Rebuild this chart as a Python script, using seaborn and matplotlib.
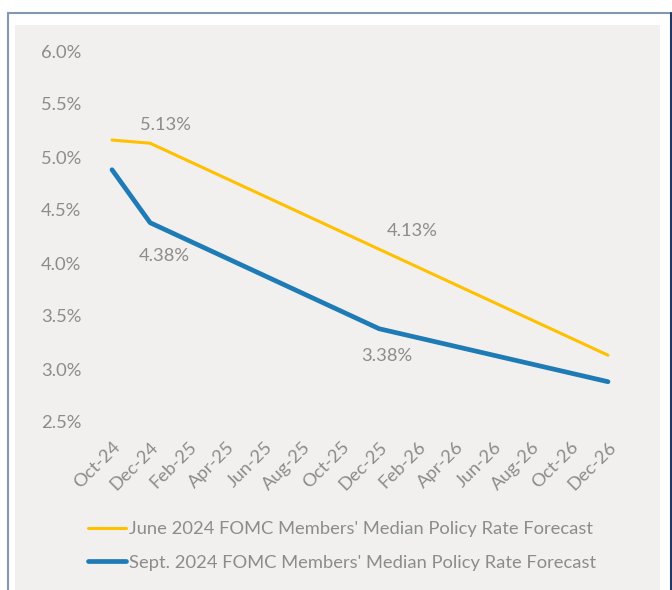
import matplotlib
matplotlib.use("Agg")
import matplotlib.pyplot as plt
import seaborn as sns
import pandas as pd
from matplotlib.lines import Line2D
from matplotlib.patches import Rectangle

# ---- data ----
months_all = ["Oct-24", "Nov-24", "Dec-24", "Jan-25", "Feb-25", "Mar-25", "Apr-25", "May-25",
              "Jun-25", "Jul-25", "Aug-25", "Sep-25", "Oct-25", "Nov-25", "Dec-25", "Jan-26",
              "Feb-26", "Mar-26", "Apr-26", "May-26", "Jun-26", "Jul-26", "Aug-26", "Sep-26",
              "Oct-26", "Nov-26", "Dec-26"]
tick_labels = months_all[::2]
point_dates = ["Oct-24", "Dec-24", "Dec-25", "Dec-26"]
june_vals = [5.16, 5.13, 4.13, 3.13]
sept_vals = [4.88, 4.38, 3.38, 2.88]
june_name = "June 2024 FOMC Members' Median Policy Rate Forecast"
sept_name = "Sept. 2024 FOMC Members' Median Policy Rate Forecast"
yticks = [2.5, 3.0, 3.5, 4.0, 4.5, 5.0, 5.5, 6.0]

rows = []
for d, v in zip(point_dates, june_vals):
    rows.append({"m": months_all.index(d), "rate": v, "series": june_name})
for d, v in zip(point_dates, sept_vals):
    rows.append({"m": months_all.index(d), "rate": v, "series": sept_name})
df = pd.DataFrame(rows)

sns.set_theme(style="white")
plt.rcParams["font.family"] = ["Lato", "DejaVu Sans"]

W, H = 672, 590
FS = 13.2
fig = plt.figure(figsize=(W / 100, H / 100), dpi=100)
fig.patch.set_facecolor("white")

def fx(x):
    return x / W

def fy(y):
    return 1 - y / H

# panel
fig.patches.append(Rectangle((fx(15), 0), fx(660) - fx(15), fy(25), transform=fig.transFigure,
                             facecolor="#f1f0ef", edgecolor="none", zorder=-5))
# frame
fig.lines.append(Line2D([fx(7.5), fx(7.5)], [0, fy(12.5)], transform=fig.transFigure, color="#8497b0", lw=1.5, zorder=-4))
fig.lines.append(Line2D([fx(7.5), fx(671)], [fy(12.5), fy(12.5)], transform=fig.transFigure, color="#8497b0", lw=1.5, zorder=-4))
fig.lines.append(Line2D([fx(671), fx(671)], [0, fy(12.5)], transform=fig.transFigure, color="#203864", lw=1.5, zorder=-4))

ax_left, ax_right, ax_top, ax_bot = 95, 625, 51, 422
ax = fig.add_axes([fx(ax_left), fy(ax_bot), fx(ax_right) - fx(ax_left), fy(ax_top) - fy(ax_bot)])
ax.set_zorder(2)
ax.set_facecolor("none")
ax.patch.set_alpha(0)

palette = {june_name: "#ffc000", sept_name: "#1f7bb6"}
sizes = {june_name: 2.2, sept_name: 3.4}
for name in [june_name, sept_name]:
    sub = df[df["series"] == name]
    sns.lineplot(data=sub, x="m", y="rate", ax=ax, color=palette[name], lw=sizes[name],
                 solid_capstyle="round", solid_joinstyle="round", legend=False)

# x range: Oct-24 at pixel 112, Dec-26 at 608
px_per = (608 - 112) / 26
ax.set_xlim(-(112 - ax_left) / px_per, 26 + (ax_right - 608) / px_per)
ax.set_ylim(2.5, 6.0)
ax.set_yticks(yticks)
ax.set_yticklabels([f"{t:.1f}%" for t in yticks])
ax.set_xticks(range(0, 27, 2))
ax.set_xticklabels(tick_labels, rotation=45, ha="right", rotation_mode="anchor")
ax.tick_params(axis="both", length=0, colors="#8c8c8c", labelsize=FS)
ax.tick_params(axis="y", pad=10)
ax.tick_params(axis="x", pad=12)
for s in ax.spines.values():
    s.set_visible(False)
ax.grid(False)
ax.set_xlabel("")
ax.set_ylabel("")

lab_kw = dict(color="#8c8c8c", fontsize=FS, ha="center", va="center")
ax.text(2.78, 5.30, "5.13%", **lab_kw)
ax.text(15.72, 4.30, "4.13%", **lab_kw)
ax.text(2.73, 4.066, "4.38%", **lab_kw)
ax.text(14.4, 3.123, "3.38%", **lab_kw)

handles = [Line2D([0], [0], color=palette[june_name], lw=2.2),
           Line2D([0], [0], color=palette[sept_name], lw=3.4)]
leg = fig.legend(handles, [june_name, sept_name], loc="upper left",
                 bbox_to_anchor=(fx(81), fy(514)), frameon=False, fontsize=FS,
                 handlelength=2.05, handletextpad=0.15, labelspacing=0.95,
                 labelcolor="#8c8c8c", borderaxespad=0)

fig.savefig("out.png", dpi=100, facecolor="white")
